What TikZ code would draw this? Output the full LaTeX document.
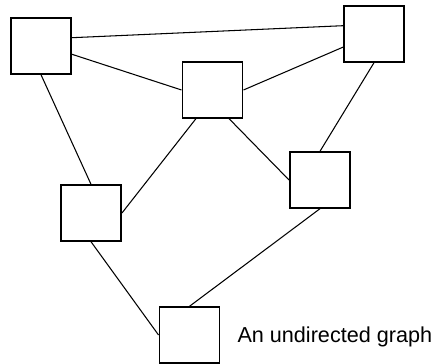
\documentclass[tikz,border=0pt]{standalone}
\usepackage{fontspec}
\setmainfont{Liberation Sans}
\usetikzlibrary{positioning}

\begin{document}
\begin{tikzpicture}[x=0.02cm, y=-0.02cm, line width=0.6pt,
  vertex/.style={draw, line width=1.1pt, minimum width=1.2cm, minimum height=1.11cm, inner sep=0pt}]
\useasboundingbox (0,0) rectangle (436,364);
\node[vertex] (a) at (41,46) {};
\node[vertex] (b) at (374,34) {};
\node[vertex] (c) at (212.5,90) {};
\node[vertex] (d) at (320,180) {};
\node[vertex] (e) at (91,213) {};
\node[vertex] (f) at (189.5,335) {};
\path[draw] (a.15) edge (b.165)
            (a.345) edge (c.west)
            (a.south) edge (e.north)
            (c.east) edge (b.203)
            (c.240) edge (e.east)
            (c.300) edge (d.west)
            (b.south) edge (d.north)
            (d.south) edge (f.north)
            (e.south) edge (f.west);
\node[anchor=base west, inner sep=0pt, font=\fontsize{12.3}{14}\selectfont] (caption) at (237,343) {An undirected graph};
\end{tikzpicture}
\end{document}
